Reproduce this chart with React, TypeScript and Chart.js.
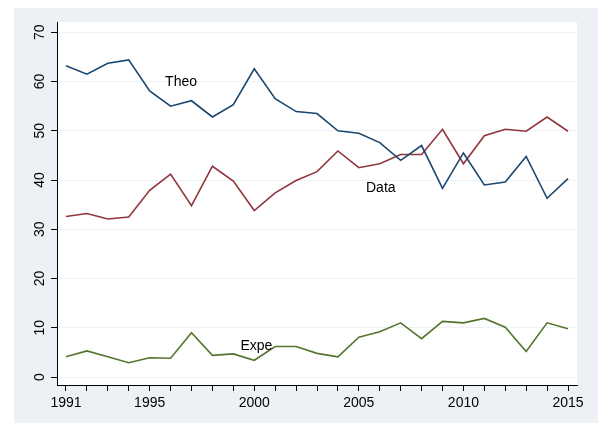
import React, { useEffect, useRef } from "react";
import { Chart, registerables } from "chart.js";

Chart.register(...registerables);

const years = [1991,1992,1993,1994,1995,1996,1997,1998,1999,2000,2001,2002,2003,2004,2005,2006,2007,2008,2009,2010,2011,2012,2013,2014,2015];
const theo = [63.2,61.5,63.7,64.4,58.1,55.0,56.1,52.8,55.3,62.6,56.5,53.9,53.5,50.0,49.5,47.6,44.0,47.0,38.3,45.5,39.0,39.6,44.8,36.3,40.3];
const dataS = [32.6,33.2,32.1,32.5,37.9,41.2,34.8,42.8,39.8,33.8,37.4,39.9,41.7,45.9,42.5,43.3,45.2,45.2,50.3,43.3,49.0,50.3,49.9,52.8,49.9];
const expe = [4.1,5.3,4.1,2.9,3.9,3.8,9.0,4.4,4.7,3.4,6.2,6.2,4.8,4.1,8.1,9.2,11.0,7.8,11.3,11.0,11.9,10.1,5.2,11.0,9.8];
const xLabelYears = [1991, 1995, 2000, 2005, 2010, 2015];
const yTicks = [0, 10, 20, 30, 40, 50, 60, 70];
const noteTexts = ["Theo", "Data", "Expe"];
const noteX = [1996.5, 2006.05, 2000.1];
const noteY = [59.8, 38.3, 6.3];

const FONT = "'Liberation Sans', Arial, Helvetica, sans-serif";

export default function App() {
  const ref = useRef<HTMLCanvasElement | null>(null);
  useEffect(() => {
    if (!ref.current) return;
    const bgPlugin = {
      id: "bg",
      beforeDraw(chart: any) {
        const { ctx, chartArea, width, height } = chart;
        ctx.save();
        ctx.fillStyle = "#ffffff";
        ctx.fillRect(0, 0, width, height);
        ctx.fillStyle = "#edf1f6";
        ctx.fillRect(14, 8, width - 14, height - 8);
        ctx.fillStyle = "#ffffff";
        ctx.fillRect(chartArea.left, chartArea.top, chartArea.right - chartArea.left, chartArea.bottom - chartArea.top);
        ctx.restore();
      },
      afterDraw(chart: any) {
        const { ctx } = chart;
        const ys = chart.scales.y;
        const xs = chart.scales.x;
        ctx.save();
        ctx.fillStyle = "#000";
        ctx.font = `14px ${FONT}`;
        ctx.textAlign = "center";
        ctx.textBaseline = "middle";
        yTicks.forEach((v) => {
          const py = ys.getPixelForValue(v);
          ctx.save();
          ctx.translate(40, py);
          ctx.rotate(-Math.PI / 2);
          ctx.fillText(String(v), 0, 0);
          ctx.restore();
        });
        noteTexts.forEach((t, i) => {
          ctx.fillText(t, xs.getPixelForValue(noteX[i]), ys.getPixelForValue(noteY[i]));
        });
        ctx.restore();
      },
    };
    const chart = new Chart(ref.current, {
      type: "line",
      data: {
        datasets: [
          { label: "Theo", data: years.map((y, i) => ({ x: y, y: theo[i] })), borderColor: "#1a476f" },
          { label: "Data", data: years.map((y, i) => ({ x: y, y: dataS[i] })), borderColor: "#90353b" },
          { label: "Expe", data: years.map((y, i) => ({ x: y, y: expe[i] })), borderColor: "#55752f" },
        ].map((d) => ({ ...d, borderWidth: 1.6, pointRadius: 0, tension: 0, fill: false })),
      },
      options: {
        responsive: false,
        animation: false,
        layout: { padding: { left: 0, right: 21, top: 22, bottom: 0 } },
        plugins: { legend: { display: false }, tooltip: { enabled: false }, title: { display: false } },
        scales: {
          x: {
            type: "linear",
            min: 1990.57,
            max: 2015.43,
            afterBuildTicks: (s: any) => { s.ticks = years.map((v) => ({ value: v })); },
            afterFit: (s: any) => { s.height = 38; },
            ticks: {
              autoSkip: false,
              maxRotation: 0,
              minRotation: 0,
              padding: 4,
              color: "#000",
              font: { family: FONT, size: 14 },
              callback: (v: any) => (xLabelYears.includes(Number(v)) ? String(v) : ""),
            },
            grid: { drawOnChartArea: false, tickColor: "#000", tickLength: 6, color: "#000" },
            border: { display: true, color: "#000", width: 1 },
          },
          y: {
            type: "linear",
            min: -1.62,
            max: 72.09,
            afterBuildTicks: (s: any) => { s.ticks = yTicks.map((v) => ({ value: v })); },
            afterFit: (s: any) => { s.width = 57; },
            ticks: { color: "rgba(0,0,0,0)", font: { family: FONT, size: 14 } },
            grid: { color: "#eef2f6", tickColor: "#000", tickLength: 6, lineWidth: 1 },
            border: { display: true, color: "#000", width: 1 },
          },
        },
      },
      plugins: [bgPlugin],
    });
    return () => chart.destroy();
  }, []);
  return (
    <div style={{ position: "absolute", left: 0, top: 0, width: 598, height: 423 }}>
      <canvas ref={ref} width={598} height={423} style={{ width: 598, height: 423, display: "block" }} />
    </div>
  );
}
